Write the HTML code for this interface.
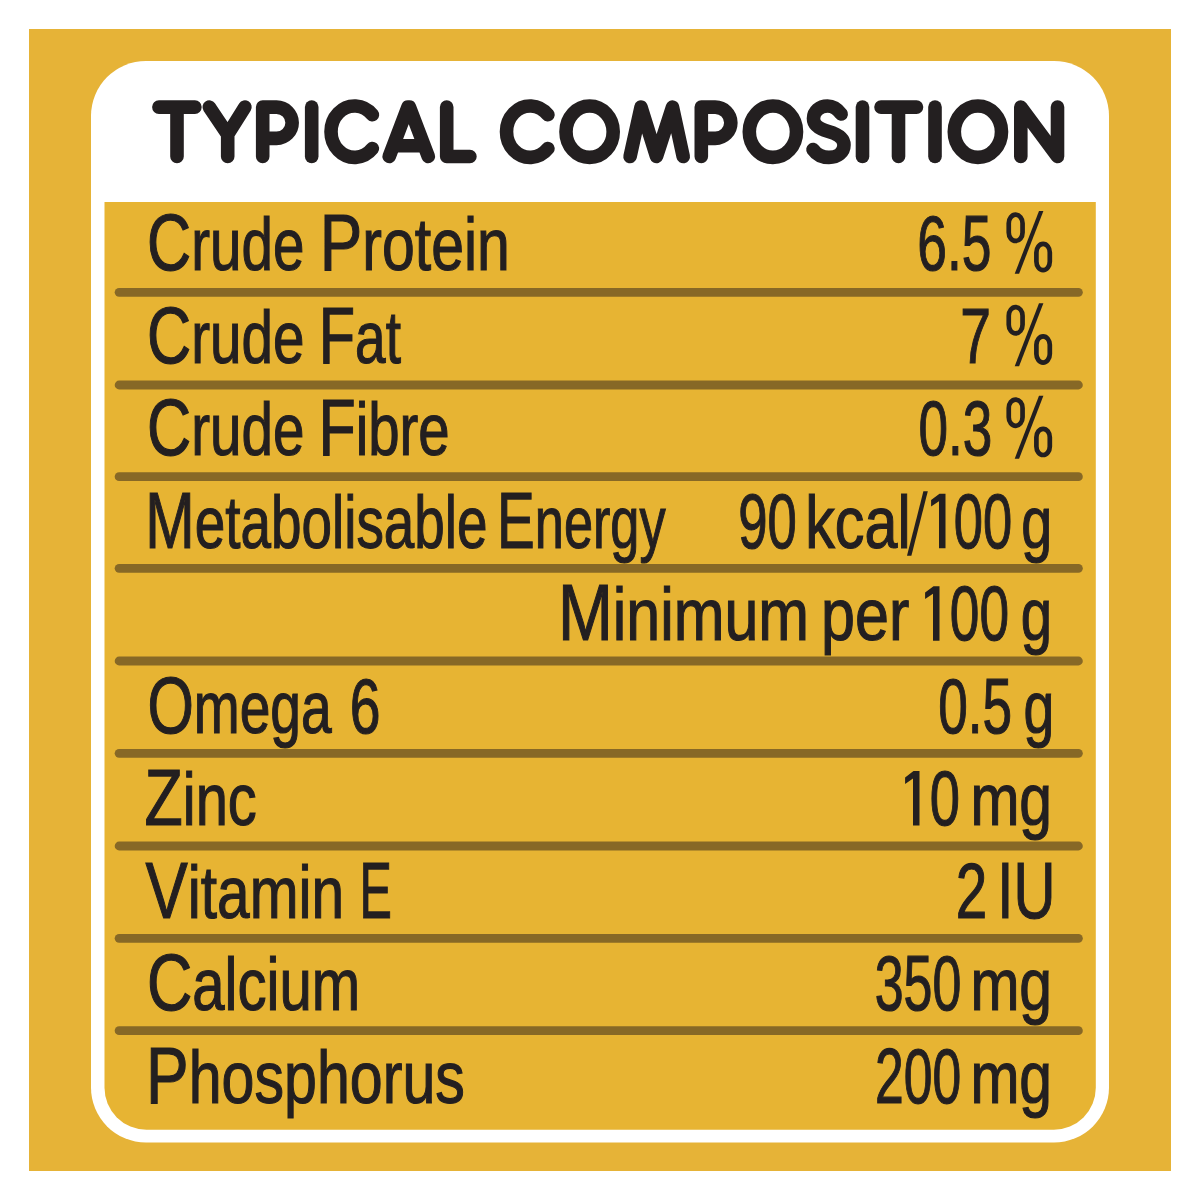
<!DOCTYPE html>
<html>
<head>
<meta charset="utf-8">
<style>
html,body{margin:0;padding:0;background:#fff;width:1200px;height:1200px;overflow:hidden;}
svg{display:block;}
.t{font-family:"Liberation Sans",sans-serif;font-size:74px;fill:#231f20;stroke:#231f20;stroke-width:1.2px;}
.C{font-size:80px;}
.D{font-size:78px;}
</style>
</head>
<body>
<svg width="1200" height="1200" viewBox="0 0 1200 1200">
<!--BG-->
<rect x="0" y="0" width="1200" height="1200" fill="#ffffff"/>
<rect x="29" y="29" width="1142" height="1142" fill="#e6b337"/>
<rect x="91" y="61" width="1018" height="1081.5" rx="55" ry="55" fill="#ffffff"/>
<path d="M104.5,202 H1095.8 V1087.8 A42,42 0 0 1 1053.8,1129.8 H146.5 A42,42 0 0 1 104.5,1087.8 Z" fill="#e7b433"/>
<g fill="none" stroke="#231f20" stroke-width="13.6" stroke-linecap="round" stroke-linejoin="round">
<path d="M158.9,107.1 H194.9 M177,107.1 V156.5"/>
<path d="M209.3,107.1 L227.7,134.5 L244.9,107.1 M227.7,134.5 V156.5"/>
<path d="M262.7,156.5 V107.1 H276.5 A15.65,15.65 0 0 1 276.5,138.4 H262.7"/>
<path d="M311.7,107.1 V156.5"/>
<path d="M372.4,114.8 A23.6,25.7 0 1 0 372.4,148.6"/>
<path d="M389.2,156.5 L407.9,107.1 L409.5,107.1 L428.3,156.5 M393.4,145.8 H424.1"/>
<path d="M446.7,107.1 V156.5 H469.9"/>
<path d="M547.9,114.8 A23.6,25.7 0 1 0 547.9,148.6"/>
<ellipse cx="589.6" cy="131.7" rx="23.6" ry="25.7"/>
<path d="M630.1,156.5 L641,107.1 L656.5,156.5 L672.5,107.1 L683.2,156.5"/>
<path d="M701.3,156.5 V107.1 H715.2 A15.65,15.65 0 0 1 715.2,138.4 H701.3"/>
<ellipse cx="772.9" cy="131.7" rx="23.6" ry="25.7"/>
<path d="M841.2,114 C837.5,109 832.5,106 827.5,106 C819.5,106 813.5,111.5 813.5,118.5 C813.5,125 818,128.5 828.5,131.5 C839,134.5 844,138.5 844,145 C844,152.5 837.5,157.4 829,157.4 C822.5,157.4 816.5,154.5 813,149.5"/>
<path d="M862.5,107.1 V156.5"/>
<path d="M881,107.1 H916.5 M898.5,107.1 V156.5"/>
<path d="M935,107.1 V156.5"/>
<ellipse cx="977.9" cy="131.7" rx="23.6" ry="25.7"/>
<path d="M1020.8,156.5 V107.1 L1057.5,156.5 V107.1"/>
</g>
<g stroke="#876826" stroke-width="8.8" stroke-linecap="round">
<line x1="119.1" y1="292.3" x2="1078.4" y2="292.3"/>
<line x1="119.1" y1="385" x2="1078.4" y2="385"/>
<line x1="119.1" y1="476.7" x2="1078.4" y2="476.7"/>
<line x1="119.1" y1="568.3" x2="1078.4" y2="568.3"/>
<line x1="119.1" y1="661" x2="1078.4" y2="661"/>
<line x1="119.1" y1="753.3" x2="1078.4" y2="753.3"/>
<line x1="119.1" y1="846" x2="1078.4" y2="846"/>
<line x1="119.1" y1="938.3" x2="1078.4" y2="938.3"/>
<line x1="119.1" y1="1030.7" x2="1078.4" y2="1030.7"/>
</g>
<defs>
<g id="pct">
<rect x="1008.75" y="214.7" width="13.8" height="26.2" rx="6.9" ry="8.5" fill="none" stroke="#231f20" stroke-width="4.7"/>
<rect x="1036.4" y="243.9" width="13.4" height="26.2" rx="6.7" ry="8.5" fill="none" stroke="#231f20" stroke-width="4.7"/>
<polygon points="1014.7,273.75 1019.1,273.75 1043.4,210.9 1039,210.9" fill="#231f20"/>
</g>
</defs>
<use href="#pct"/>
<use href="#pct" transform="translate(0,92.45)"/>
<use href="#pct" transform="translate(0,184.9)"/>
<polygon points="907,555.7 911.4,555.7 927.8,491.3 923.4,491.3" fill="#231f20"/>
<polygon points="931.10,500.10 939.50,493.70 945.50,493.70 945.50,548.30 939.00,548.30 939.00,501.30 931.10,506.60" fill="#231f20"/>
<polygon points="925.10,592.60 933.50,586.20 939.50,586.20 939.50,640.80 933.00,640.80 933.00,593.80 925.10,599.10" fill="#231f20"/>
<polygon points="905.10,777.40 913.50,771.00 919.50,771.00 919.50,825.60 913.00,825.60 913.00,778.60 905.10,783.90" fill="#231f20"/>
<!--/BG-->
<g class="t">
<text x="147.11" y="270.45" textLength="157.27" lengthAdjust="spacingAndGlyphs"><tspan class="C">C</tspan>rude</text>
<text x="319.83" y="270.45" textLength="190.11" lengthAdjust="spacingAndGlyphs"><tspan class="C">P</tspan>rotein</text>
<text x="917.20" y="270.45" textLength="74.22" lengthAdjust="spacingAndGlyphs"><tspan class="D">6.5</tspan></text>
<text x="147.10" y="362.90" textLength="157.42" lengthAdjust="spacingAndGlyphs"><tspan class="C">C</tspan>rude</text>
<text x="318.72" y="362.90" textLength="82.23" lengthAdjust="spacingAndGlyphs"><tspan class="C">F</tspan>at</text>
<text x="960.36" y="362.90" textLength="30.72" lengthAdjust="spacingAndGlyphs"><tspan class="D">7</tspan></text>
<text x="147.10" y="455.35" textLength="157.42" lengthAdjust="spacingAndGlyphs"><tspan class="C">C</tspan>rude</text>
<text x="318.49" y="455.35" textLength="131.15" lengthAdjust="spacingAndGlyphs"><tspan class="C">F</tspan>ibre</text>
<text x="918.39" y="455.35" textLength="73.81" lengthAdjust="spacingAndGlyphs"><tspan class="D">0.3</tspan></text>
<text x="145.30" y="547.80" textLength="342.26" lengthAdjust="spacingAndGlyphs"><tspan class="C">M</tspan>etabolisable</text>
<text x="497.10" y="547.80" textLength="168.50" lengthAdjust="spacingAndGlyphs"><tspan class="C">E</tspan>nergy</text>
<text x="738.32" y="547.80" textLength="58.56" lengthAdjust="spacingAndGlyphs"><tspan class="D">90</tspan></text>
<text x="805.20" y="547.80" textLength="105.43" lengthAdjust="spacingAndGlyphs">kcal</text>
<text x="953.75" y="547.80" textLength="58.40" lengthAdjust="spacingAndGlyphs"><tspan class="D">00</tspan></text>
<text x="1021.36" y="547.80" textLength="30.90" lengthAdjust="spacingAndGlyphs">g</text>
<text x="557.92" y="640.25" textLength="251.10" lengthAdjust="spacingAndGlyphs"><tspan class="C">M</tspan>inimum</text>
<text x="820.94" y="640.25" textLength="88.30" lengthAdjust="spacingAndGlyphs">per</text>
<text x="949.86" y="640.25" textLength="59.26" lengthAdjust="spacingAndGlyphs"><tspan class="D">00</tspan></text>
<text x="1020.66" y="640.25" textLength="31.32" lengthAdjust="spacingAndGlyphs">g</text>
<text x="147.42" y="732.70" textLength="184.28" lengthAdjust="spacingAndGlyphs"><tspan class="C">O</tspan>mega</text>
<text x="349.87" y="732.70" textLength="30.75" lengthAdjust="spacingAndGlyphs"><tspan class="D">6</tspan></text>
<text x="938.13" y="732.70" textLength="73.89" lengthAdjust="spacingAndGlyphs"><tspan class="D">0.5</tspan></text>
<text x="1023.58" y="732.70" textLength="30.74" lengthAdjust="spacingAndGlyphs">g</text>
<text x="144.59" y="825.15" textLength="112.22" lengthAdjust="spacingAndGlyphs"><tspan class="C">Z</tspan>inc</text>
<text x="929.80" y="825.15" textLength="30.22" lengthAdjust="spacingAndGlyphs"><tspan class="D">0</tspan></text>
<text x="970.38" y="825.15" textLength="81.71" lengthAdjust="spacingAndGlyphs">mg</text>
<text x="145.53" y="917.60" textLength="198.54" lengthAdjust="spacingAndGlyphs"><tspan class="C">V</tspan>itamin</text>
<text x="359.48" y="917.60" textLength="32.38" lengthAdjust="spacingAndGlyphs"><tspan class="C">E</tspan></text>
<text x="955.71" y="917.60" textLength="31.47" lengthAdjust="spacingAndGlyphs"><tspan class="D">2</tspan></text>
<text x="997.35" y="917.60" textLength="58.12" lengthAdjust="spacingAndGlyphs"><tspan class="C">IU</tspan></text>
<text x="146.94" y="1010.05" textLength="213.16" lengthAdjust="spacingAndGlyphs"><tspan class="C">C</tspan>alcium</text>
<text x="874.63" y="1010.05" textLength="86.70" lengthAdjust="spacingAndGlyphs"><tspan class="D">350</tspan></text>
<text x="970.38" y="1010.05" textLength="81.71" lengthAdjust="spacingAndGlyphs">mg</text>
<text x="146.10" y="1102.50" textLength="318.75" lengthAdjust="spacingAndGlyphs"><tspan class="C">P</tspan>hosphorus</text>
<text x="875.07" y="1102.50" textLength="86.16" lengthAdjust="spacingAndGlyphs"><tspan class="D">200</tspan></text>
<text x="970.38" y="1102.50" textLength="81.71" lengthAdjust="spacingAndGlyphs">mg</text>
</g>

</svg>
</body>
</html>
